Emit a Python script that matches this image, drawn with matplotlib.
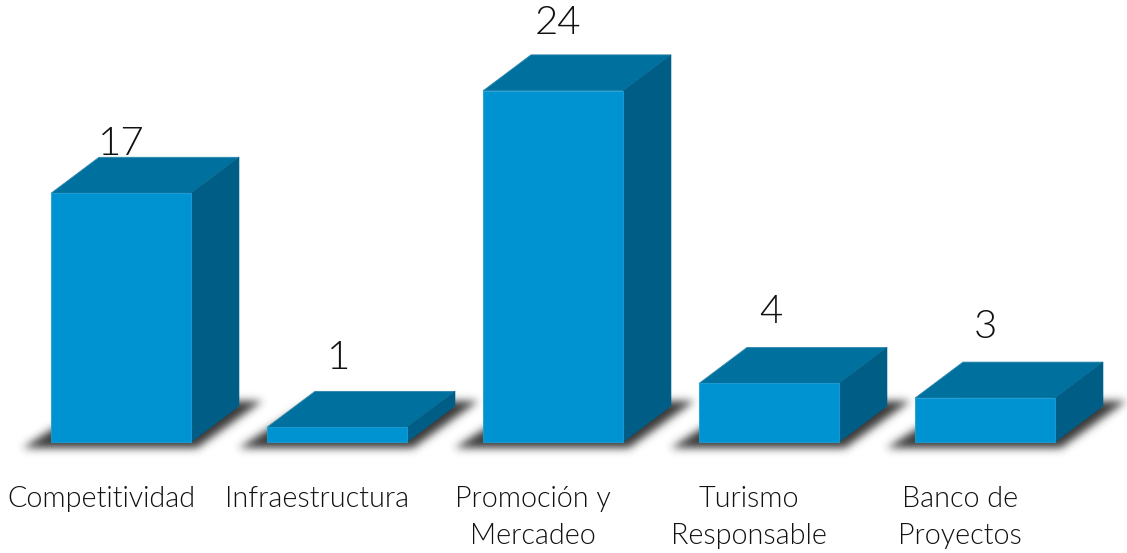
import numpy as np
import matplotlib
matplotlib.use("Agg")
import matplotlib.pyplot as plt
from matplotlib.patches import Polygon

categories = ["Competitividad", "Infraestructura", "Promoción y\nMercadeo",
              "Turismo\nResponsable", "Banco de\nProyectos"]
values = [17, 1, 24, 4, 3]

W, H = 1127, 553
STEP, UNIT = 216.0, 14.63     # px per category / per value unit
X0, BASE = 121.0, 442.0       # px of first bar centre / baseline
BAR_PX, DX, DY = 140.0, 48.0, 36.0

plt.rcParams["font.family"] = ["Lato", "DejaVu Sans"]
fig = plt.figure(figsize=(W / 100, H / 100), dpi=100, facecolor="white")
ax = fig.add_axes([0, 0, 1, 1])
xlim = (-X0 / STEP, (W - X0) / STEP)
ylim = ((BASE - H) / UNIT, BASE / UNIT)
ax.set_xlim(*xlim)
ax.set_ylim(*ylim)
ax.axis("off")

hw = BAR_PX / STEP / 2
dx, dy = DX / STEP, DY / UNIT
FRONT, TOP, SIDE = "#0093D2", "#00709F", "#005E86"

# blurred floor shadow, computed on the pixel grid
yy, xx = np.mgrid[0:H, 0:W]
mask = np.zeros((H, W))
for i in range(len(values)):
    xl = X0 + STEP * i - BAR_PX / 2
    xr = xl + BAR_PX
    y_b, y_t = 447.0, 401.0
    t = (y_b - yy) / (y_b - y_t)
    inside = (t >= 0) & (t <= 1) & (xx >= xl - 28 + t * 72) & (xx <= xr + 6 + t * 64)
    mask[inside] = 1
kernel = np.exp(-0.5 * (np.arange(-14, 15) / 4.2) ** 2)
kernel /= kernel.sum()
mask = np.apply_along_axis(lambda r: np.convolve(r, kernel, mode="same"), 1, mask)
mask = np.apply_along_axis(lambda c: np.convolve(c, kernel, mode="same"), 0, mask)
rgba = np.zeros((H, W, 4))
rgba[..., :3] = 0.14
rgba[..., 3] = np.clip(mask, 0, 1) * 0.9
ax.imshow(rgba, extent=(xlim[0], xlim[1], ylim[0], ylim[1]), origin="upper",
          aspect="auto", zorder=1, interpolation="bilinear")
ax.set_xlim(*xlim)
ax.set_ylim(*ylim)

# 3D bars
for i, v in enumerate(values):
    l, r = i - hw, i + hw
    ax.add_patch(Polygon([(l, v), (r, v), (r + dx, v + dy), (l + dx, v + dy)],
                         fc=TOP, ec="#2C87AD", lw=0.6, zorder=3))
    ax.add_patch(Polygon([(r, 0), (r + dx, dy), (r + dx, v + dy), (r, v)],
                         fc=SIDE, ec=SIDE, lw=0.4, zorder=3))
    ax.add_patch(Polygon([(l, 0), (r, 0), (r, v), (l, v)],
                         fc=FRONT, ec="#1E9FD6", lw=0.6, zorder=4))

# value labels
value_dx = [0, 2, 5, 2, 0]
value_gap = [38, 58, 57, 60, 60]
for i, v in enumerate(values):
    ax.annotate(str(v), (i, v), xytext=(value_dx[i] * 0.72, value_gap[i] * 0.72),
                textcoords="offset points", ha="center", va="baseline",
                fontsize=29, fontweight=300, color="#111111", zorder=2)

# category labels
label_dx = [-20, -20, -20, -20, -25]
for i, c in enumerate(categories):
    ax.annotate(c, (i, 0), xytext=(label_dx[i] * 0.72, -31.5),
                textcoords="offset points", ha="center", va="top",
                fontsize=20.7, fontweight=300, color="#111111", linespacing=1.52)

fig.savefig("out.png", dpi=100, facecolor="white")
